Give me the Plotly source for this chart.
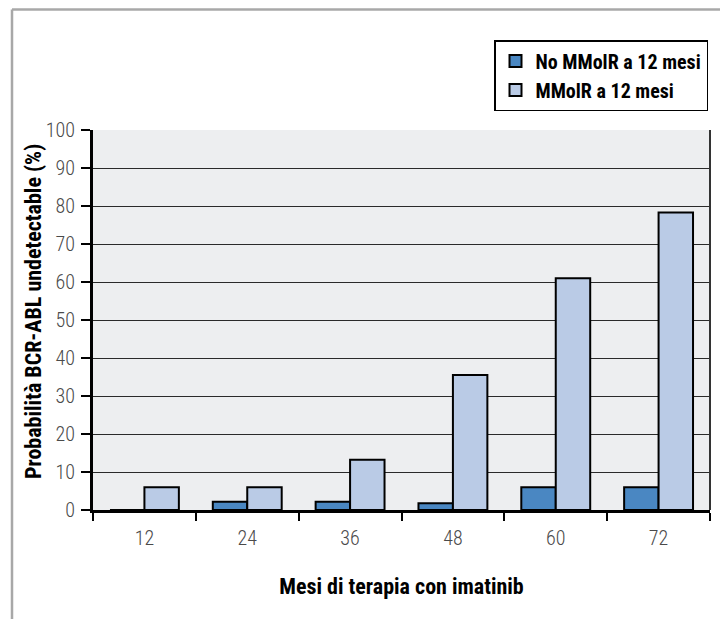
import plotly.graph_objects as go

categories = ["12", "24", "36", "48", "60", "72"]
no_mmolr = [0, 2.2, 2.2, 1.8, 6, 6]
mmolr = [6, 6, 13.2, 35.5, 61, 78.3]
y_ticks = [0, 10, 20, 30, 40, 50, 60, 70, 80, 90, 100]

FONT = "Roboto Condensed, DejaVu Sans Condensed, sans-serif"

fig = go.Figure()
fig.add_trace(go.Bar(
    x=categories, y=no_mmolr, name="No MMolR a 12 mesi",
    marker=dict(color="#4A87C2", line=dict(color="black", width=2)),
))
fig.add_trace(go.Bar(
    x=categories, y=mmolr, name="MMolR a 12 mesi",
    marker=dict(color="#BACBE6", line=dict(color="black", width=2)),
))

PL, PR, PT, PB = 85, 702, 122, 502   # plot area in figure pixels
W, H = 720, 611

def px(fx):
    return (fx - PL) / (PR - PL)

def py(fy):
    return (PB - fy) / (PB - PT)

fig.update_layout(
    width=W, height=H,
    margin=dict(l=PL, r=W - PR, t=PT, b=H - PB),
    paper_bgcolor="white",
    plot_bgcolor="#EDEEF0",
    barmode="group",
    bargap=0.33,
    bargroupgap=0,
    showlegend=True,
    legend=dict(
        x=px(486), y=py(32), xanchor="left", yanchor="top",
        bordercolor="black", borderwidth=1.5, bgcolor="white",
        font=dict(family=FONT, size=20, color="black", weight="bold"),
        traceorder="normal", tracegroupgap=0, itemwidth=30,
    ),
    xaxis=dict(
        type="category",
        showline=True, linecolor="black", linewidth=3,
        ticks="outside", tickson="boundaries", ticklen=8, tickwidth=1.5, tickcolor="black",
        tickfont=dict(family=FONT, size=20, color="#4a4a4a", weight=300),
        ticklabelstandoff=8,
        title=dict(text="Mesi di terapia con imatinib",
                   font=dict(family=FONT, size=22, color="black", weight="bold"),
                   standoff=30),
        showgrid=False,
    ),
    yaxis=dict(
        range=[0, 100],
        tickvals=y_ticks,
        showline=True, linecolor="black", linewidth=3,
        ticks="outside", ticklen=9, tickwidth=1.5, tickcolor="black",
        tickfont=dict(family=FONT, size=20, color="#4a4a4a", weight=300),
        ticklabelstandoff=2,
        showgrid=True, gridcolor="#2a2a2a", gridwidth=1.4,
        zeroline=False,
    ),
)

# y-axis title placed as in the reference
fig.add_annotation(
    xref="paper", yref="paper", x=px(25), y=py(304), xanchor="center", yanchor="middle",
    textangle=-90, showarrow=False,
    text="Probabilità BCR-ABL undetectable (%)",
    font=dict(family=FONT, size=22, color="black", weight="bold"),
)

# right border of the plot area
fig.add_shape(type="line", xref="paper", yref="paper", x0=1, x1=1, y0=0, y1=1,
              line=dict(color="#333333", width=2))
# outer page frame
frame = dict(color="#A8A8A8", width=2.5)
fig.add_shape(type="line", xref="paper", yref="paper", x0=px(4), x1=px(W),
              y0=py(1.5), y1=py(1.5), line=frame)
fig.add_shape(type="line", xref="paper", yref="paper", x0=px(4), x1=px(4),
              y0=py(1.5), y1=py(H), line=frame)

fig.write_html("out.html")
